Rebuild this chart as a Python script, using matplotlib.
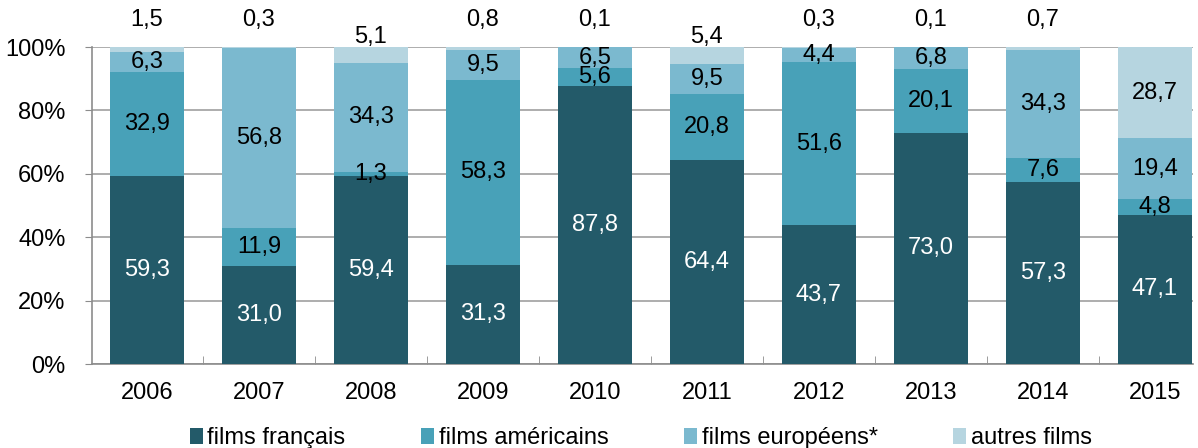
#!/usr/bin/env python3
from __future__ import annotations

import numpy as np
import matplotlib
matplotlib.use("Agg")
import matplotlib.pyplot as plt
from matplotlib.patches import Patch

years = ["2006", "2007", "2008", "2009", "2010", "2011", "2012", "2013", "2014", "2015"]
films_francais = [59.3, 31.0, 59.4, 31.3, 87.8, 64.4, 43.7, 73.0, 57.3, 47.1]
films_americains = [32.9, 11.9, 1.3, 58.3, 5.6, 20.8, 51.6, 20.1, 7.6, 4.8]
films_europeens = [6.3, 56.8, 34.3, 9.5, 6.5, 9.5, 4.4, 6.8, 34.3, 19.4]
autres_films = [1.5, 0.3, 5.1, 0.8, 0.1, 5.4, 0.3, 0.1, 0.7, 28.7]

series_names = ["films français", "films américains", "films européens*", "autres films"]
series_colors = ["#235a69", "#48a1b8", "#7bb9cf", "#b6d5e0"]
text_colors = ["white", "black", "black", "black"]


def fmt(v: float) -> str:
    return f"{v:.1f}".replace(".", ",")


def main() -> None:
    plt.rcParams["font.family"] = ["Liberation Sans", "DejaVu Sans"]
    fs = 17
    fig = plt.figure(figsize=(11.98, 4.48), dpi=100)
    ax = fig.add_axes([0.0768, 0.1875, 0.919, 0.7075])

    x = np.arange(len(years))
    width = 0.66
    series = [films_francais, films_americains, films_europeens, autres_films]
    bottoms = np.zeros(len(years))
    for k, (vals, col) in enumerate(zip(series, series_colors)):
        vals = np.array(vals)
        ax.bar(x, vals, width, bottom=bottoms, color=col, zorder=3)
        for i, v in enumerate(vals):
            y = bottoms[i] + v / 2
            if k == 3 and v < 2:
                y = 108.5
            elif k == 3 and v < 10:
                y = 103.2
            ax.text(x[i], y, fmt(v), ha="center", va="center",
                    fontsize=fs, color=text_colors[k], zorder=4, clip_on=False)
        bottoms += vals

    ax.set_xlim(-0.49, 9.34)
    ax.set_ylim(0, 100)
    ax.set_yticks(np.arange(0, 101, 20))
    ax.set_yticklabels([f"{t}%" for t in range(0, 101, 20)], fontsize=fs)
    ax.set_xticks(x)
    ax.set_xticklabels(years, fontsize=fs)
    ax.tick_params(axis="x", length=0, pad=13)
    ax.set_xticks(x[:-1] + 0.5, minor=True)
    ax.tick_params(axis="x", which="minor", direction="in", length=6, color="#8c8c8c")
    ax.tick_params(axis="y", length=5, color="#8c8c8c", pad=14)
    ax.yaxis.grid(True, color="#a0a0a0", linewidth=1.2, zorder=0)
    for side in ["top", "right"]:
        ax.spines[side].set_visible(False)
    ax.spines["left"].set_color("#8c8c8c")
    ax.spines["bottom"].set_color("#8c8c8c")
    ax.spines["left"].set_linewidth(1.2)
    ax.spines["bottom"].set_linewidth(1.2)

    handles = [Patch(facecolor=c, edgecolor="none") for c in series_colors]
    fig.legend(handles, series_names, loc="center", bbox_to_anchor=(0.535, 0.022),
               ncol=4, frameon=False, fontsize=fs, handlelength=0.55, handleheight=0.7,
               handletextpad=0.2, columnspacing=3.2, borderpad=0)

    fig.savefig("out.png", dpi=100)
    plt.close(fig)


if __name__ == "__main__":
    main()
